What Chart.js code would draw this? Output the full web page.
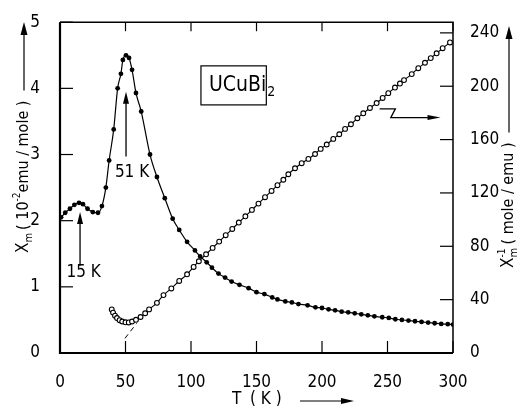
<!DOCTYPE html>
<html><head><meta charset="utf-8">
<script src="https://cdn.jsdelivr.net/npm/chart.js@4"></script>
<style>html,body{margin:0;padding:0;background:#fff}#wrap{width:521px;height:408px}</style>
</head><body><div id="wrap"><canvas id="c" width="521" height="408"></canvas></div>
<script>
// susceptibility chi_m (10^-2 emu/mole), left axis
const tChi = [0.8, 4, 7.6, 11, 14.5, 17.5, 21, 25, 29, 32, 35, 37.5, 41, 44, 46.5, 48, 50.4, 52.7, 55, 58, 62, 68.7, 74, 80, 86, 91, 97, 103, 107, 112, 116, 121, 126, 131, 137, 144, 150, 156, 162, 166, 172, 177, 182, 189, 195, 200, 205, 210, 215, 220, 225, 230, 235, 240, 246, 251, 256, 261, 266, 271, 276, 281, 286, 291, 296, 300];
const chiVals = [2.05, 2.12, 2.18, 2.24, 2.27, 2.25, 2.18, 2.13, 2.12, 2.22, 2.5, 2.91, 3.38, 4.0, 4.22, 4.43, 4.5, 4.46, 4.28, 3.93, 3.65, 3.0, 2.66, 2.34, 2.03, 1.86, 1.68, 1.55, 1.46, 1.37, 1.29, 1.2, 1.14, 1.08, 1.03, 0.98, 0.92, 0.89, 0.84, 0.81, 0.78, 0.765, 0.74, 0.72, 0.69, 0.68, 0.66, 0.645, 0.625, 0.615, 0.6, 0.585, 0.57, 0.555, 0.54, 0.53, 0.51, 0.5, 0.49, 0.48, 0.47, 0.46, 0.45, 0.44, 0.435, 0.43];
// inverse susceptibility (mole/emu), right axis
const tInv = [39.5, 40.5, 42, 43.5, 45.5, 47.5, 50, 52.5, 55, 58, 61.5, 65, 68, 74, 79, 85, 91, 97, 102, 106, 111.5, 116.5, 121.5, 126.5, 131.5, 136.5, 141.5, 146.5, 151.5, 156.5, 161.5, 166, 170.5, 174.3, 179.4, 184.5, 189.6, 194.7, 199, 203.6, 208.6, 213.2, 217.6, 222.1, 227, 231.5, 236.6, 241.7, 246.3, 250.6, 255.7, 259.5, 262.6, 268.5, 273.5, 278.6, 283, 287.5, 292.1, 297.7];
const invVals = [32.7, 30.3, 28, 26.2, 24.6, 23.6, 23.0, 22.9, 23.6, 24.9, 27, 29.8, 32.7, 37.6, 43.4, 48.4, 54, 59, 64.5, 68.8, 74, 78.8, 83.5, 88.3, 93, 97.8, 102.5, 107.3, 112, 116.8, 121.5, 125.8, 129.9, 134, 138.5, 142.3, 145.5, 149.2, 153, 156.3, 160.5, 164, 168, 171.5, 176, 179.7, 183.7, 187.4, 191.2, 194.8, 199, 202, 204.6, 209.1, 213.5, 217.6, 221.1, 224.7, 228.5, 232.8];
// Curie-Weiss extrapolation stub
const tFit = [49.6, 58.5];
const fitVals = [11, 22.2];
// ticks
const tTicks = [0, 50, 100, 150, 200, 250, 300];
const chiTicks = [0, 1, 2, 3, 4, 5];
const invTicks = [0, 40, 80, 120, 160, 200, 240];

const FONT = "'DejaVu Sans Condensed', 'DejaVu Sans', sans-serif";
const pts = (xs, ys) => xs.map((x, i) => ({x, y: ys[i]}));

function arrowHead(ctx, x, y, dir, len, w) {
  ctx.beginPath();
  if (dir === 'up') { ctx.moveTo(x, y); ctx.lineTo(x - w, y + len); ctx.lineTo(x + w, y + len); }
  else if (dir === 'right') { ctx.moveTo(x, y); ctx.lineTo(x - len, y - w); ctx.lineTo(x - len, y + w); }
  ctx.closePath(); ctx.fill();
}

const deco = {
  id: 'deco',
  beforeDraw(chart) { try { chart.ctx.fontStretch = 'condensed'; } catch (e) {} },
  afterDraw(chart) {
    const {ctx, chartArea: a, scales} = chart;
    const xs = scales.x, yl = scales.y, yr = scales.y2;
    ctx.save();
    try { ctx.fontStretch = 'condensed'; } catch (e) {}
    ctx.strokeStyle = '#000'; ctx.fillStyle = '#000';
    // frame
    ctx.lineWidth = 2.2;
    ctx.beginPath(); ctx.moveTo(a.left, a.top); ctx.lineTo(a.left, a.bottom); ctx.lineTo(a.right, a.bottom); ctx.stroke();
    ctx.lineWidth = 1.5;
    ctx.beginPath(); ctx.moveTo(a.left, a.top); ctx.lineTo(a.right, a.top); ctx.lineTo(a.right, a.bottom); ctx.stroke();
    // inward ticks
    ctx.lineWidth = 1.2;
    tTicks.forEach(v => { const px = xs.getPixelForValue(v);
      ctx.beginPath(); ctx.moveTo(px, a.bottom); ctx.lineTo(px, a.bottom - 12); ctx.stroke();
      ctx.beginPath(); ctx.moveTo(px, a.top); ctx.lineTo(px, a.top + 9); ctx.stroke(); });
    chiTicks.forEach(v => { const py = yl.getPixelForValue(v);
      ctx.beginPath(); ctx.moveTo(a.left, py); ctx.lineTo(a.left + 13, py); ctx.stroke(); });
    invTicks.forEach(v => { const py = yr.getPixelForValue(v);
      ctx.beginPath(); ctx.moveTo(a.right, py); ctx.lineTo(a.right - 13, py); ctx.stroke(); });

    // left axis title (rotated)
    ctx.save();
    ctx.translate(24, 253); ctx.rotate(-Math.PI / 2);
    ctx.textBaseline = 'middle'; ctx.textAlign = 'left';
    let x = 0;
    ctx.font = `17px ${FONT}`; ctx.fillText('X', x, 0); x += ctx.measureText('X').width;
    ctx.font = `11px ${FONT}`; ctx.fillText('m', x, 5); x += ctx.measureText('m').width + 3;
    ctx.font = `16px ${FONT}`; ctx.fillText('( 10', x, 0); x += ctx.measureText('( 10').width;
    ctx.font = `10px ${FONT}`; ctx.fillText('-2', x, -7); x += ctx.measureText('-2').width;
    ctx.font = `16px ${FONT}`; ctx.fillText('emu / mole )', x, 0); x += ctx.measureText('emu / mole )').width;
    ctx.lineWidth = 1.2;
    ctx.beginPath(); ctx.moveTo(x + 10, 0); ctx.lineTo(220, 0); ctx.stroke();
    ctx.restore();
    arrowHead(ctx, 24, 22, 'up', 13, 3.5);

    // right axis title
    ctx.save();
    ctx.translate(509, 268); ctx.rotate(-Math.PI / 2);
    ctx.textBaseline = 'middle'; ctx.textAlign = 'left';
    x = 0;
    ctx.font = `17px ${FONT}`; ctx.fillText('X', x, 0); x += ctx.measureText('X').width;
    ctx.font = `11px ${FONT}`; ctx.fillText('m', x, 5); ctx.font = `10px ${FONT}`; ctx.fillText('-1', x, -7); x += 9 + 4;
    ctx.font = `16px ${FONT}`; ctx.fillText('( mole / emu )', x, 0); x += ctx.measureText('( mole / emu )').width;
    ctx.beginPath(); ctx.moveTo(x + 10, 0); ctx.lineTo(230, 0); ctx.stroke();
    ctx.restore();
    arrowHead(ctx, 509, 26, 'up', 13, 3.5);

    // bottom title
    ctx.font = `17px ${FONT}`; ctx.textBaseline = 'middle'; ctx.textAlign = 'left';
    ctx.fillText('T', 232, 400);
    ctx.fillText('( K )', 250, 400);
    ctx.beginPath(); ctx.moveTo(300, 401); ctx.lineTo(342, 401); ctx.stroke();
    arrowHead(ctx, 354, 401, 'right', 13, 3);

    // 51 K annotation
    const ax = xs.getPixelForValue(50.4);
    ctx.lineWidth = 1.3;
    ctx.beginPath(); ctx.moveTo(ax, yl.getPixelForValue(2.97)); ctx.lineTo(ax, yl.getPixelForValue(3.85)); ctx.stroke();
    arrowHead(ctx, ax, yl.getPixelForValue(3.95), 'up', 12, 3);
    ctx.font = `17px ${FONT}`; ctx.textAlign = 'center';
    ctx.fillText('51 K', xs.getPixelForValue(55), yl.getPixelForValue(2.73));
    // 15 K annotation
    const bx = xs.getPixelForValue(15.3);
    ctx.beginPath(); ctx.moveTo(bx, yl.getPixelForValue(1.32)); ctx.lineTo(bx, yl.getPixelForValue(2.0)); ctx.stroke();
    arrowHead(ctx, bx, yl.getPixelForValue(2.13), 'up', 12, 3);
    ctx.fillText('15 K', xs.getPixelForValue(18), yl.getPixelForValue(1.22));

    // compound label box
    const bl = xs.getPixelForValue(107.6), br = xs.getPixelForValue(157.5);
    const bt = yl.getPixelForValue(4.34), bb = yl.getPixelForValue(3.75);
    ctx.lineWidth = 1.2; ctx.strokeRect(bl, bt, br - bl, bb - bt);
    ctx.textAlign = 'left';
    ctx.font = `21px ${FONT}`; ctx.fillText('UCuBi', bl + 8, (bt + bb) / 2);
    const w = ctx.measureText('UCuBi').width;
    ctx.font = `14px ${FONT}`; ctx.fillText('2', bl + 8 + w + 1, (bt + bb) / 2 + 7);

    // squiggle arrow to right axis
    ctx.lineWidth = 1.3;
    ctx.beginPath();
    ctx.moveTo(xs.getPixelForValue(244), yr.getPixelForValue(183));
    ctx.lineTo(xs.getPixelForValue(256), yr.getPixelForValue(183));
    ctx.lineTo(xs.getPixelForValue(252.5), yr.getPixelForValue(176.5));
    ctx.lineTo(xs.getPixelForValue(282), yr.getPixelForValue(176.5));
    ctx.stroke();
    arrowHead(ctx, xs.getPixelForValue(290.5), yr.getPixelForValue(176.5), 'right', 13, 2.5);
    ctx.restore();
  }
};

new Chart(document.getElementById('c'), {
  type: 'scatter',
  data: {
    datasets: [
      { data: pts(tChi, chiVals), yAxisID: 'y', showLine: true, borderColor: '#000', borderWidth: 1.2,
        pointRadius: 2.4, pointBackgroundColor: '#000', pointBorderColor: '#000', pointBorderWidth: 0,
        cubicInterpolationMode: 'monotone' },
      { data: pts(tInv, invVals), yAxisID: 'y2', showLine: true, borderColor: '#000', borderWidth: 1.1,
        pointRadius: 2.4, pointBackgroundColor: '#fff', pointBorderColor: '#000', pointBorderWidth: 1.1,
        cubicInterpolationMode: 'monotone' },
      { data: pts(tFit, fitVals), yAxisID: 'y2', showLine: true, borderColor: '#000', borderWidth: 1,
        borderDash: [5, 4], pointRadius: 0 }
    ]
  },
  options: {
    responsive: false, animation: false, events: [],
    layout: { padding: { top: 20, left: 0, right: 0, bottom: 0 } },
    plugins: { legend: { display: false }, tooltip: { enabled: false } },
    scales: {
      x: { type: 'linear', min: 0, max: 300,
        afterFit(s) { s.height = 55; },
        afterBuildTicks(s) { s.ticks = tTicks.map(v => ({value: v})); },
        grid: { display: false }, border: { display: false },
        ticks: { padding: 11, color: '#000', font: { family: FONT, size: 17 } } },
      y: { type: 'linear', position: 'left', min: 0, max: 5,
        afterFit(s) { s.width = 60; },
        afterBuildTicks(s) { s.ticks = chiTicks.map(v => ({value: v})); },
        grid: { display: false }, border: { display: false },
        ticks: { padding: 12, color: '#000', font: { family: FONT, size: 17 } } },
      y2: { type: 'linear', position: 'right', min: 0, max: 248,
        afterFit(s) { s.width = 68; },
        afterBuildTicks(s) { s.ticks = invTicks.map(v => ({value: v})); },
        grid: { display: false }, border: { display: false },
        ticks: { padding: 9, color: '#000', font: { family: FONT, size: 17 } } }
    }
  },
  plugins: [deco]
});
</script></body></html>
